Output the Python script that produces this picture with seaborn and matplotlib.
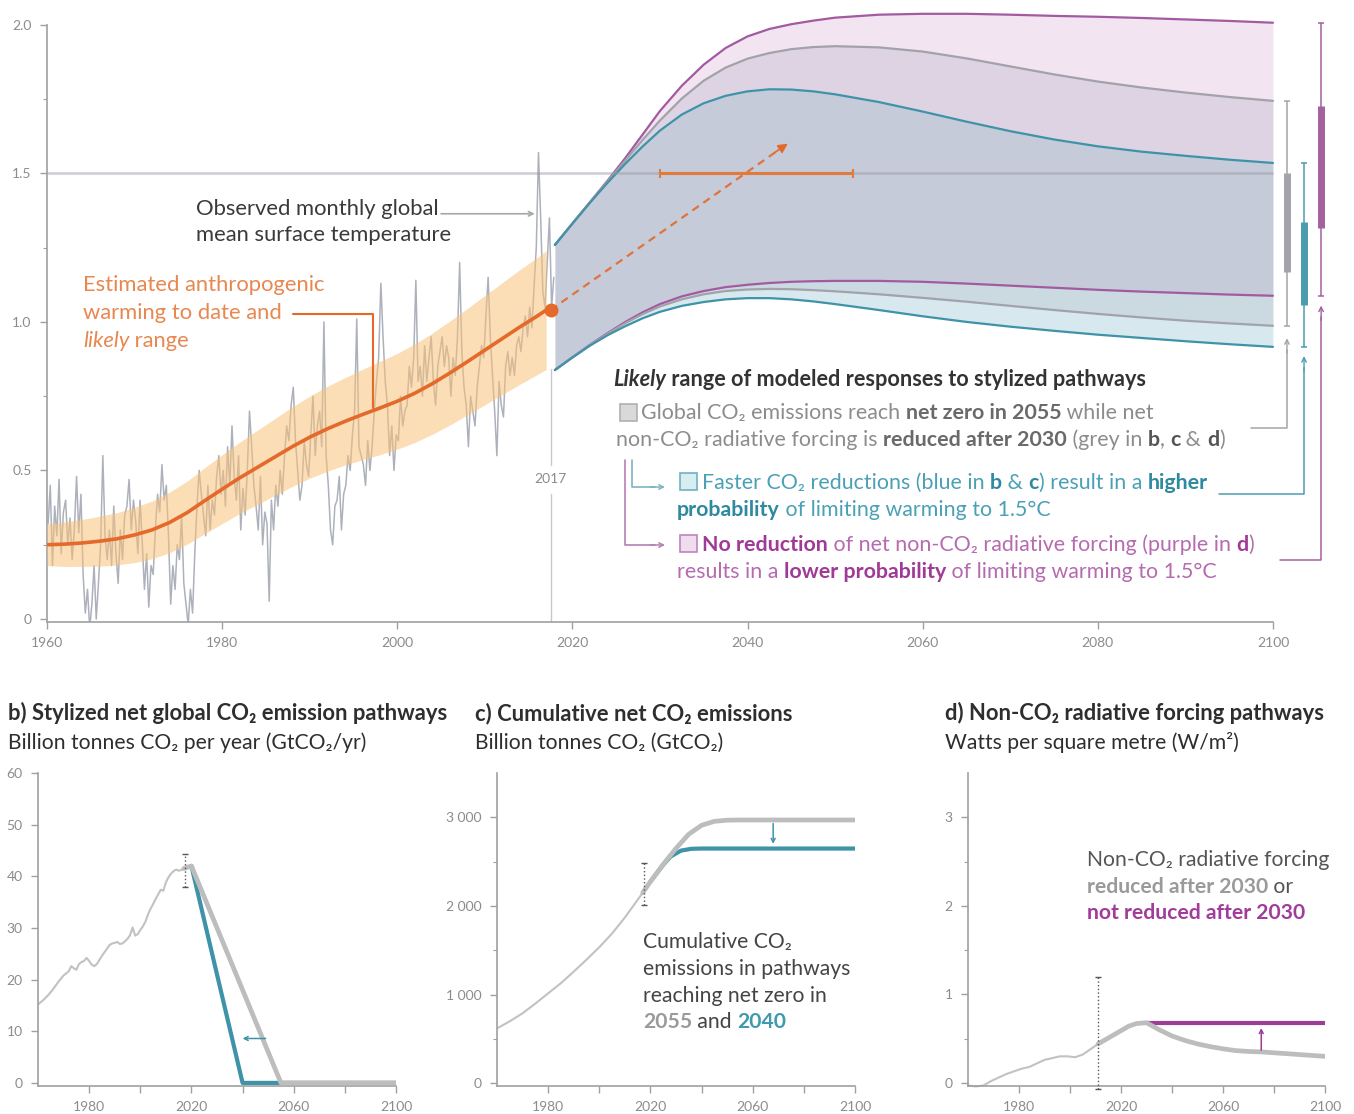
import numpy as np
import matplotlib
matplotlib.use("Agg")
import matplotlib.pyplot as plt
from matplotlib.lines import Line2D
from matplotlib.patches import Rectangle
import seaborn as sns

sns.set_theme(style="ticks")
plt.rcParams["font.family"] = ["Lato", "DejaVu Sans"]
plt.rcParams["axes.unicode_minus"] = False

# ------------------------------------------------------------------
# a) Observed global mean surface temperature (°C), 4 samples per year
# ------------------------------------------------------------------
obs_start = 1960
obs_temp = [
    0.32, 0.45, 0.18, 0.38,   # 1960
    0.28, 0.47, 0.22, 0.36,
    0.40, 0.25, 0.34, 0.20,
    0.30, 0.48, 0.29, 0.42,
    0.15, 0.02, 0.10, -0.03,
    0.05, 0.18, 0.00, 0.12,   # 1965
    0.25, 0.55, 0.28, 0.20,
    0.30, 0.18, 0.38, 0.22,
    0.12, 0.30, 0.20, 0.35,
    0.38, 0.47, 0.30, 0.40,
    0.33, 0.22, 0.40, 0.26,   # 1970
    0.10, 0.22, 0.04, 0.18,
    0.15, 0.30, 0.42, 0.36,
    0.52, 0.40, 0.45, 0.28,
    0.05, 0.18, 0.10, 0.25,
    0.20, 0.35, 0.12, 0.05,   # 1975
    -0.02, 0.10, 0.02, 0.22,
    0.38, 0.50, 0.42, 0.35,
    0.28, 0.45, 0.30, 0.40,
    0.35, 0.48, 0.55, 0.42,
    0.50, 0.38, 0.58, 0.45,   # 1980
    0.65, 0.48, 0.40, 0.55,
    0.30, 0.44, 0.35, 0.50,
    0.70, 0.58, 0.45, 0.38,
    0.30, 0.48, 0.25, 0.36,
    0.32, 0.06, 0.40, 0.30,   # 1985
    0.45, 0.38, 0.50, 0.42,
    0.55, 0.65, 0.60, 0.72,
    0.78, 0.60, 0.50, 0.40,
    0.45, 0.60, 0.52, 0.48,
    0.62, 0.75, 0.55, 0.65,   # 1990
    0.70, 0.58, 1.00, 0.55,
    0.45, 0.30, 0.25, 0.38,
    0.40, 0.48, 0.30, 0.42,
    0.45, 0.55, 0.50, 0.62,
    0.70, 1.01, 0.58, 0.55,   # 1995
    0.52, 0.45, 0.60, 0.50,
    0.58, 0.70, 0.80, 0.88,
    1.13, 0.95, 0.80, 0.72,
    0.55, 0.65, 0.50, 0.62,
    0.60, 0.75, 0.65, 0.70,   # 2000
    0.72, 0.85, 0.78, 0.88,
    1.14, 0.80, 0.85, 0.75,
    0.92, 0.80, 0.88, 0.95,
    0.80, 0.72, 0.85, 0.90,
    0.95, 0.85, 0.92, 0.88,   # 2005
    0.75, 0.88, 0.82, 0.95,
    1.20, 0.90, 0.78, 0.72,
    0.58, 0.75, 0.70, 0.65,
    0.78, 0.85, 0.92, 0.88,
    1.02, 1.15, 0.95, 0.82,   # 2010
    0.70, 0.55, 0.80, 0.72,
    0.68, 0.85, 0.90, 0.82,
    0.88, 0.82, 0.92, 0.95,
    0.90, 0.98, 1.02, 0.95,
    1.05, 0.98, 1.12, 1.25,   # 2015
    1.57, 1.35, 1.10, 1.05,
    1.20, 1.35, 1.05, 1.15,
]

# Estimated anthropogenic warming and likely range
warm_years = [1960, 1962, 1964, 1966, 1968, 1970, 1972, 1974, 1976, 1978,
              1980, 1982, 1984, 1986, 1988, 1990, 1992, 1994, 1996, 1998,
              2000, 2002, 2004, 2006, 2008, 2010, 2012, 2014, 2016, 2017]
warm_mid = [0.250, 0.252, 0.256, 0.262, 0.270, 0.283, 0.300, 0.325, 0.358, 0.398,
            0.437, 0.475, 0.510, 0.545, 0.580, 0.612, 0.640, 0.665, 0.688, 0.710,
            0.733, 0.760, 0.792, 0.828, 0.866, 0.905, 0.944, 0.983, 1.020, 1.040]
warm_low = [0.180, 0.177, 0.177, 0.178, 0.182, 0.190, 0.203, 0.223, 0.252, 0.287,
            0.321, 0.355, 0.385, 0.416, 0.446, 0.474, 0.497, 0.518, 0.536, 0.553,
            0.572, 0.594, 0.622, 0.653, 0.687, 0.721, 0.756, 0.790, 0.823, 0.840]
warm_high = [0.320, 0.327, 0.335, 0.346, 0.358, 0.376, 0.397, 0.427, 0.464, 0.509,
             0.553, 0.595, 0.635, 0.674, 0.714, 0.750, 0.783, 0.812, 0.840, 0.867,
             0.894, 0.926, 0.962, 1.003, 1.045, 1.089, 1.132, 1.176, 1.217, 1.240]

# Likely range of modelled responses to the stylized pathways
path_years = [2018, 2020, 2022, 2024, 2026, 2028, 2030, 2032.5, 2035, 2037.5,
              2040, 2042.5, 2045, 2047.5, 2050, 2055, 2060, 2065, 2070, 2075,
              2080, 2085, 2090, 2095, 2100]
blue_hi = [1.259, 1.331, 1.401, 1.468, 1.531, 1.590, 1.644, 1.698, 1.736, 1.761,
           1.776, 1.783, 1.782, 1.776, 1.766, 1.740, 1.708, 1.674, 1.642, 1.614,
           1.591, 1.573, 1.559, 1.546, 1.535]
grey_hi = [1.259, 1.331, 1.402, 1.472, 1.542, 1.612, 1.678, 1.752, 1.812, 1.856,
           1.886, 1.905, 1.918, 1.925, 1.928, 1.924, 1.910, 1.887, 1.860, 1.833,
           1.809, 1.789, 1.772, 1.757, 1.744]
purple_hi = [1.259, 1.331, 1.403, 1.475, 1.550, 1.630, 1.710, 1.795, 1.866, 1.922,
             1.961, 1.986, 2.002, 2.014, 2.024, 2.034, 2.037, 2.037, 2.034, 2.030,
             2.027, 2.023, 2.018, 2.013, 2.007]
blue_lo = [0.838, 0.880, 0.920, 0.955, 0.985, 1.012, 1.034, 1.054, 1.067, 1.076,
           1.080, 1.080, 1.076, 1.069, 1.060, 1.040, 1.019, 1.000, 0.984, 0.970,
           0.957, 0.946, 0.935, 0.925, 0.916]
grey_lo = [0.838, 0.881, 0.922, 0.960, 0.995, 1.026, 1.052, 1.076, 1.093, 1.104,
           1.109, 1.111, 1.110, 1.107, 1.103, 1.093, 1.081, 1.068, 1.054, 1.040,
           1.027, 1.015, 1.004, 0.995, 0.987]
purple_lo = [0.838, 0.881, 0.923, 0.962, 0.999, 1.032, 1.060, 1.086, 1.104, 1.117,
             1.125, 1.131, 1.135, 1.137, 1.138, 1.138, 1.135, 1.129, 1.122, 1.115,
             1.108, 1.102, 1.097, 1.092, 1.088]

# 2100 ranges (whisker = likely range, box = central range): grey, blue, purple
range_low = [0.987, 0.916, 1.088]
range_high = [1.744, 1.535, 2.007]
box_low = [1.168, 1.057, 1.316]
box_high = [1.502, 1.337, 1.727]

# Time at which 1.5°C is reached at the current rate, and the current-rate trend
cross_years = [2030, 2052]
limit_level = 1.5
trend_years = [2017, 2044.6]
trend_vals = [1.040, 1.600]
ref_year = 2017

# ------------------------------------------------------------------
# b) Net global CO2 emissions (GtCO2/yr)
# ------------------------------------------------------------------
emis_years = [1960, 1962, 1964, 1966, 1968, 1970, 1972, 1973, 1974, 1975,
              1976, 1977, 1978, 1979, 1980, 1981, 1982, 1983, 1984, 1985,
              1986, 1987, 1988, 1989, 1990, 1991, 1992, 1993, 1994, 1995,
              1996, 1997, 1998, 1999, 2000, 2001, 2002, 2003, 2004, 2005,
              2006, 2007, 2008, 2009, 2010, 2011, 2012, 2013, 2014, 2015,
              2016, 2017]
emis_hist = [15.2, 16.0, 17.0, 18.2, 19.6, 20.8, 21.6, 22.6, 22.2, 21.9,
             23.0, 23.4, 23.6, 24.2, 23.6, 22.9, 22.6, 23.0, 23.8, 24.6,
             25.3, 26.0, 26.7, 27.0, 27.1, 27.3, 26.9, 27.0, 27.4, 27.9,
             28.6, 30.1, 28.5, 28.8, 29.6, 30.3, 31.2, 32.6, 33.7, 34.6,
             35.6, 36.5, 37.4, 37.2, 38.8, 39.8, 40.5, 41.0, 41.3, 41.1,
             41.2, 41.5]
emis_grey_years = [2017, 2020, 2055, 2100]
emis_grey = [41.5, 42.0, 0.0, 0.0]
emis_blue_years = [2020, 2040, 2100]
emis_blue = [42.0, 0.0, 0.0]
emis_range_2017 = [38.0, 44.3]

# ------------------------------------------------------------------
# c) Cumulative net CO2 emissions (GtCO2)
# ------------------------------------------------------------------
cum_years = [1960, 1965, 1970, 1975, 1980, 1985, 1990, 1995, 2000, 2005,
             2010, 2015, 2017]
cum_hist = [620, 700, 790, 900, 1015, 1130, 1260, 1395, 1535, 1690,
            1870, 2070, 2150]
cum_grey_years = [2017, 2020, 2025, 2030, 2035, 2040, 2045, 2050, 2055, 2100]
cum_grey = [2150, 2275, 2470, 2650, 2810, 2910, 2955, 2968, 2970, 2970]
cum_blue_years = [2020, 2025, 2028, 2032, 2036, 2040, 2100]
cum_blue = [2275, 2465, 2560, 2625, 2645, 2648, 2648]
cum_range_2017 = [2010, 2490]

# ------------------------------------------------------------------
# d) Non-CO2 radiative forcing (W/m2)
# ------------------------------------------------------------------
rf_years = [1960, 1963, 1966, 1969, 1972, 1975, 1978, 1981, 1984, 1987,
            1990, 1993, 1996, 1999, 2002, 2005, 2008, 2011]
rf_hist = [-0.03, -0.04, -0.03, 0.02, 0.06, 0.10, 0.13, 0.16, 0.18, 0.22,
           0.26, 0.28, 0.30, 0.30, 0.29, 0.32, 0.38, 0.44]
rf_grey_years = [2011, 2014, 2017, 2020, 2023, 2026, 2030, 2035, 2040, 2045,
                 2050, 2055, 2060, 2065, 2070, 2075, 2080, 2085, 2090, 2095, 2100]
rf_grey = [0.44, 0.49, 0.54, 0.59, 0.64, 0.67, 0.68, 0.60, 0.53, 0.48,
           0.44, 0.41, 0.385, 0.365, 0.355, 0.35, 0.34, 0.33, 0.32, 0.31, 0.30]
rf_purple_years = [2030, 2100]
rf_purple = [0.68, 0.68]
rf_range_2011 = [-0.07, 1.20]

# ------------------------------------------------------------------
# styling
# ------------------------------------------------------------------
W, H = 1354, 1114
C_GREY = "#a2a2aa"
C_BLUE = "#3f93a8"
C_PURPLE = "#a25aa0"
C_ORANGE = "#e5692a"
C_ORANGE_TXT = "#e8874f"
C_TXT = "#3a3a3a"
C_TICK = "#8c8c8c"
C_SPINE = "#a0a0a0"
FS_NOTE = 15.8
FS_KEY = 15.4

fig = plt.figure(figsize=(W / 100, H / 100), dpi=100)


def frac(x0, y0, x1, y1):
    """Axes rectangle from pixel box (left, top, right, bottom)."""
    return [x0 / W, 1 - y1 / H, (x1 - x0) / W, (y1 - y0) / H]


def style_axes(a, xb, yb):
    for s in ("top", "right"):
        a.spines[s].set_visible(False)
    for s in ("left", "bottom"):
        a.spines[s].set_color(C_SPINE)
        a.spines[s].set_linewidth(1.2)
    a.spines["bottom"].set_bounds(*xb)
    a.spines["left"].set_bounds(*yb)
    a.tick_params(axis="both", which="major", direction="out", length=5, width=1,
                  color=C_SPINE, labelcolor=C_TICK, labelsize=10, pad=6)
    a.tick_params(axis="both", which="minor", direction="out", length=3, width=0.8,
                  color=C_SPINE)
    a.set_xlabel("")
    a.set_ylabel("")
    a.patch.set_alpha(0)


def rich(host, x, y, pieces, size):
    """Draw a line of mixed-style text; (x, y) is the baseline start in pixels from top-left."""
    prev = None
    for text, color, weight, style in pieces:
        kw = dict(color=color, fontsize=size, fontweight=weight, fontstyle=style,
                  annotation_clip=False, zorder=10)
        if prev is None:
            prev = host.annotate(text, xy=(x, H - y), xycoords="figure pixels",
                                 ha="left", va="baseline", **kw)
        else:
            prev = host.annotate(text, xy=(1, 0), xycoords=prev,
                                 ha="left", va="bottom", **kw)
    return prev


def fig_line(xs, ys, color, lw=1.2):
    fig.add_artist(Line2D([x / W for x in xs], [1 - y / H for y in ys],
                          transform=fig.transFigure, color=color, lw=lw))


def fig_box(x, y, w, h, face, edge):
    fig.add_artist(Rectangle((x / W, 1 - (y + h) / H), w / W, h / H,
                             transform=fig.transFigure, facecolor=face,
                             edgecolor=edge, lw=1.2))


# ------------------------------------------------------------------
# a) main panel
# ------------------------------------------------------------------
ax = fig.add_axes(frac(47, 4, 1343, 622))
ax.set_xlim(1960, 2108)
ax.set_ylim(-0.01, 2.07)

obs_t = obs_start + (np.arange(len(obs_temp)) + 0.5) / 4
sns.lineplot(x=obs_t, y=obs_temp, ax=ax, color="#adb1bb", linewidth=1.1,
             legend=False, zorder=2)
ax.fill_between(warm_years, warm_low, warm_high, color="#f9c27a", alpha=0.55,
                lw=0, zorder=3)

# stacked pathway ranges
ax.fill_between(path_years, grey_hi, purple_hi, color="#f2e5f1", lw=0, zorder=1)
ax.fill_between(path_years, blue_hi, grey_hi, color="#ddd3e3", lw=0, zorder=1)
ax.fill_between(path_years, purple_lo, blue_hi, color="#c5cbd9", lw=0, zorder=1)
ax.fill_between(path_years, grey_lo, purple_lo, color="#cbd9e0", lw=0, zorder=1)
ax.fill_between(path_years, blue_lo, grey_lo, color="#d7e9ee", lw=0, zorder=1)

for vals, col in ((purple_hi, C_PURPLE), (grey_hi, C_GREY), (blue_hi, C_BLUE),
                  (purple_lo, C_PURPLE), (grey_lo, C_GREY), (blue_lo, C_BLUE)):
    sns.lineplot(x=path_years, y=vals, ax=ax, color=col, linewidth=1.6,
                 legend=False, zorder=4)

# 1.5 °C reference line
ax.plot([1960, 2100], [limit_level, limit_level], color="#9a9aa6", alpha=0.5,
        lw=1.8, zorder=4.5, solid_capstyle="butt")

# reference-year marker
ax.plot([ref_year + 0.5] * 2, [-0.01, 0.42], color="#c8c8c8", lw=1, zorder=2.5)
ax.plot([ref_year + 0.5] * 2, [0.52, 0.84], color="#c8c8c8", lw=1, zorder=2.5)
ax.text(ref_year + 0.5, 0.47, str(ref_year), ha="center", va="center",
        color=C_TICK, fontsize=10)

# anthropogenic warming line
sns.lineplot(x=warm_years, y=warm_mid, ax=ax, color=C_ORANGE, linewidth=2.6,
             legend=False, zorder=5)
ax.plot([warm_years[-1] + 0.5], [warm_mid[-1]], "o", ms=9, color=C_ORANGE, zorder=6)

# current-rate trend (dashed) with arrow head
ax.plot([trend_years[0] + 0.5, trend_years[1] - 0.6],
        [trend_vals[0], trend_vals[1] - 0.012], color=C_ORANGE, lw=1.6,
        ls=(0, (3.5, 2.5)), zorder=6, alpha=0.9)
ax.annotate("", xy=(trend_years[1], trend_vals[1]),
            xytext=(trend_years[1] - 1.5, trend_vals[1] - 0.03),
            arrowprops=dict(arrowstyle="-|>", color=C_ORANGE, lw=1.2,
                            mutation_scale=14, shrinkA=0, shrinkB=0), zorder=6)

# time window when 1.5 °C is reached
ax.plot(cross_years, [limit_level] * 2, color="#e07b3c", lw=2.2, zorder=6,
        solid_capstyle="butt")
ax.vlines(cross_years, limit_level - 0.014, limit_level + 0.014, color="#e07b3c",
          lw=1.5, zorder=6)

# 2100 ranges
for i, col in enumerate(("#a3a3a9", "#4a9db0", "#a5609f")):
    xb = 2101.6 + i * 1.95
    ax.vlines(xb, range_low[i], range_high[i], color=col, lw=1.1, zorder=6)
    ax.hlines([range_low[i], range_high[i]], xb - 0.35, xb + 0.35, color=col,
              lw=1.1, zorder=6)
    ax.vlines(xb, box_low[i], box_high[i], color=col, lw=5, zorder=7)

style_axes(ax, (1960, 2100), (-0.01, 2.0))
ax.set_xticks(range(1960, 2101, 20))
ax.set_yticks([0, 0.5, 1.0, 1.5, 2.0])
ax.set_yticklabels(["0", "0.5", "1.0", "1.5", "2.0"])
ax.set_yticks([0.25, 0.75, 1.25, 1.75], minor=True)

# annotations on the observations and anthropogenic warming
rich(ax, 196, 215, [("Observed monthly global", C_TXT, "normal", "normal")], FS_NOTE)
rich(ax, 196, 241, [("mean surface temperature", C_TXT, "normal", "normal")], FS_NOTE)
ax.annotate("", xy=(2015.7, 1.364), xytext=(2005.0, 1.364),
            arrowprops=dict(arrowstyle="->", color="#a8a8a8", lw=1.2,
                            mutation_scale=8, shrinkA=0, shrinkB=0))

rich(ax, 83, 291, [("Estimated anthropogenic", C_ORANGE_TXT, "normal", "normal")], FS_NOTE)
rich(ax, 83, 319, [("warming to date and", C_ORANGE_TXT, "normal", "normal")], FS_NOTE)
rich(ax, 83, 347, [("likely", C_ORANGE_TXT, "normal", "italic"),
                   (" range", C_ORANGE_TXT, "normal", "normal")], FS_NOTE)
ax.plot([1988.1, 1997.2, 1997.2], [1.027, 1.027, 0.71], color=C_ORANGE, lw=1.5,
        zorder=7)

# key to the pathway ranges
G_T, G_B = "#8c8c8c", "#6a6a6a"
B_T, B_B = "#4aa0b5", "#2f8aa0"
P_T, P_B = "#b66aaf", "#a03a97"
rich(ax, 613, 386, [("Likely", "#333333", "bold", "italic"),
                    (" range of modeled responses to stylized pathways",
                     "#333333", "bold", "normal")], 15.6)
fig_box(620, 404, 17, 17, "#d9d9d9", "#b0b0b0")
rich(ax, 641, 419, [("Global CO₂ emissions reach ", G_T, "normal", "normal"),
                    ("net zero in 2055", G_B, "bold", "normal"),
                    (" while net", G_T, "normal", "normal")], FS_KEY)
rich(ax, 616, 446, [("non-CO₂ radiative forcing is ", G_T, "normal", "normal"),
                    ("reduced after 2030", G_B, "bold", "normal"),
                    (" (grey in ", G_T, "normal", "normal"),
                    ("b", "#555555", "bold", "normal"),
                    (", ", G_T, "normal", "normal"),
                    ("c", "#555555", "bold", "normal"),
                    (" & ", G_T, "normal", "normal"),
                    ("d", "#555555", "bold", "normal"),
                    (")", G_T, "normal", "normal")], FS_KEY)
fig_box(680, 473, 17, 17, "#d8edf1", "#6fb2c2")
rich(ax, 702, 489, [("Faster CO₂ reductions (blue in ", B_T, "normal", "normal"),
                    ("b", B_B, "bold", "normal"),
                    (" & ", B_T, "normal", "normal"),
                    ("c", B_B, "bold", "normal"),
                    (") result in a ", B_T, "normal", "normal"),
                    ("higher", B_B, "bold", "normal")], FS_KEY)
rich(ax, 677, 516, [("probability", B_B, "bold", "normal"),
                    (" of limiting warming to 1.5°C", B_T, "normal", "normal")], FS_KEY)
fig_box(680, 535, 17, 17, "#f0dcef", "#c084bb")
rich(ax, 702, 551, [("No reduction", P_B, "bold", "normal"),
                    (" of net non-CO₂ radiative forcing (purple in ", P_T, "normal", "normal"),
                    ("d", P_B, "bold", "normal"),
                    (")", P_T, "normal", "normal")], FS_KEY)
rich(ax, 677, 578, [("results in a ", P_T, "normal", "normal"),
                    ("lower probability", P_B, "bold", "normal"),
                    (" of limiting warming to 1.5°C", P_T, "normal", "normal")], FS_KEY)

# tree connectors inside the key
fig_line([625, 625, 655], [460, 545, 545], "#b77fb2")
fig_line([632, 632, 655], [460, 487, 487], "#7fb4c2")
for yy, col in ((487, "#7fb4c2"), (545, "#b77fb2")):
    ax.annotate("", xy=(665, H - yy), xytext=(650, H - yy),
                xycoords="figure pixels", textcoords="figure pixels",
                arrowprops=dict(arrowstyle="->", color=col, lw=1.1,
                                mutation_scale=8, shrinkA=0, shrinkB=0))

# connectors from the key to the 2100 ranges
for (x0, y0, x1, y1, col) in ((2097.5, 0.643, 2101.6, 0.945, "#a3a3a9"),
                              (2093.8, 0.421, 2103.55, 0.885, "#4a9db0"),
                              (2100.8, 0.199, 2105.5, 1.055, "#a5609f")):
    ax.plot([x0, x1, x1], [y0, y0, y1 - 0.04], color=col, lw=1.1, zorder=6,
            clip_on=False)
    ax.annotate("", xy=(x1, y1), xytext=(x1, y1 - 0.05),
                arrowprops=dict(arrowstyle="->", color=col, lw=1.0,
                                mutation_scale=8, shrinkA=0, shrinkB=0))

# ------------------------------------------------------------------
# b) emission pathways
# ------------------------------------------------------------------
axb = fig.add_axes(frac(38, 773, 396, 1086))
axb.set_xlim(1960, 2100)
axb.set_ylim(-0.6, 60)
sns.lineplot(x=emis_years, y=emis_hist, ax=axb, color="#c2c2c2", linewidth=1.5,
             legend=False)
sns.lineplot(x=emis_blue_years, y=emis_blue, ax=axb, color=C_BLUE, linewidth=3.0,
             legend=False, zorder=2.5)
sns.lineplot(x=emis_grey_years, y=emis_grey, ax=axb, color="#bdbdbd", linewidth=3.4,
             legend=False, zorder=3)
axb.plot([2017.5] * 2, emis_range_2017, color="#555555", lw=1, ls=":", zorder=4)
axb.hlines(emis_range_2017, 2016.3, 2018.7, color="#555555", lw=1, zorder=4)
axb.annotate("", xy=(2040, 8.6), xytext=(2049, 8.6),
             arrowprops=dict(arrowstyle="->", color=C_BLUE, lw=1.1,
                             mutation_scale=7, shrinkA=0, shrinkB=0))
style_axes(axb, (1960, 2100), (-0.6, 60))
axb.set_xticks(range(1980, 2101, 20))
axb.set_xticklabels(["1980", "", "2020", "", "2060", "", "2100"])
axb.set_yticks(range(0, 61, 10))

# ------------------------------------------------------------------
# c) cumulative emissions
# ------------------------------------------------------------------
axc = fig.add_axes(frac(497, 773, 855, 1086))
axc.set_xlim(1960, 2100)
axc.set_ylim(-30, 3500)
sns.lineplot(x=cum_years, y=cum_hist, ax=axc, color="#c2c2c2", linewidth=1.5,
             legend=False)
sns.lineplot(x=cum_blue_years, y=cum_blue, ax=axc, color=C_BLUE, linewidth=3.0,
             legend=False, zorder=2.5)
sns.lineplot(x=cum_grey_years, y=cum_grey, ax=axc, color="#bdbdbd", linewidth=3.4,
             legend=False, zorder=3)
axc.plot([2017.5] * 2, cum_range_2017, color="#555555", lw=1, ls=":", zorder=4)
axc.hlines(cum_range_2017, 2016.3, 2018.7, color="#555555", lw=1, zorder=4)
axc.annotate("", xy=(2068, 2700), xytext=(2068, 2930),
             arrowprops=dict(arrowstyle="->", color=C_BLUE, lw=1.1,
                             mutation_scale=7, shrinkA=0, shrinkB=0))
style_axes(axc, (1960, 2100), (-30, 3500))
axc.set_xticks(range(1980, 2101, 20))
axc.set_xticklabels(["1980", "", "2020", "", "2060", "", "2100"])
axc.set_yticks([0, 1000, 2000, 3000])
axc.set_yticklabels(["0", "1 000", "2 000", "3 000"])
axc.set_yticks([500, 1500, 2500], minor=True)

rich(axc, 643, 948, [("Cumulative CO₂", "#444444", "normal", "normal")], 15.2)
rich(axc, 643, 975, [("emissions in pathways", "#444444", "normal", "normal")], 15.2)
rich(axc, 643, 1002, [("reaching net zero in", "#444444", "normal", "normal")], 15.2)
rich(axc, 643, 1028, [("2055", "#9a9a9a", "bold", "normal"),
                      (" and ", "#444444", "normal", "normal"),
                      ("2040", "#3f9ab0", "bold", "normal")], 15.2)

# ------------------------------------------------------------------
# d) non-CO2 forcing
# ------------------------------------------------------------------
axd = fig.add_axes(frac(968, 773, 1325, 1086))
axd.set_xlim(1960, 2100)
axd.set_ylim(-0.035, 3.5)
sns.lineplot(x=rf_years, y=rf_hist, ax=axd, color="#c2c2c2", linewidth=1.5,
             legend=False, clip_on=False)
sns.lineplot(x=rf_purple_years, y=rf_purple, ax=axd, color="#9c3d98", linewidth=3.0,
             legend=False, zorder=2.5)
sns.lineplot(x=rf_grey_years, y=rf_grey, ax=axd, color="#bdbdbd", linewidth=3.4,
             legend=False, zorder=3)
axd.plot([2011] * 2, rf_range_2011, color="#555555", lw=1, ls=":", zorder=4,
         clip_on=False)
axd.hlines(rf_range_2011, 2009.8, 2012.2, color="#555555", lw=1, zorder=4,
           clip_on=False)
axd.annotate("", xy=(2075, 0.62), xytext=(2075, 0.37),
             arrowprops=dict(arrowstyle="->", color="#9c3d98", lw=1.1,
                             mutation_scale=7, shrinkA=0, shrinkB=0))
style_axes(axd, (1960, 2100), (-0.035, 3.5))
axd.set_xticks(range(1980, 2101, 20))
axd.set_xticklabels(["1980", "", "2020", "", "2060", "", "2100"])
axd.set_yticks([0, 1, 2, 3])
axd.set_yticks([0.5, 1.5, 2.5], minor=True)

rich(axd, 1087, 866, [("Non-CO₂ radiative forcing", "#555555", "normal", "normal")], 15.2)
rich(axd, 1087, 893, [("reduced after 2030", "#9a9a9a", "bold", "normal"),
                      (" or", "#555555", "normal", "normal")], 15.2)
rich(axd, 1087, 919, [("not reduced after 2030", "#a23c9b", "bold", "normal")], 15.2)

# panel titles
for x0, title, sub in ((8, "b) Stylized net global CO₂ emission pathways",
                        "Billion tonnes CO₂ per year (GtCO₂/yr)"),
                       (475, "c) Cumulative net CO₂ emissions",
                        "Billion tonnes CO₂ (GtCO₂)"),
                       (945, "d) Non-CO₂ radiative forcing pathways",
                        "Watts per square metre (W/m²)")):
    rich(ax, x0, 720, [(title, "#2e2e2e", "bold", "normal")], 15.8)
    rich(ax, x0, 749, [(sub, "#2e2e2e", "normal", "normal")], 15.2)

fig.savefig("out.png", dpi=100, facecolor="white")
